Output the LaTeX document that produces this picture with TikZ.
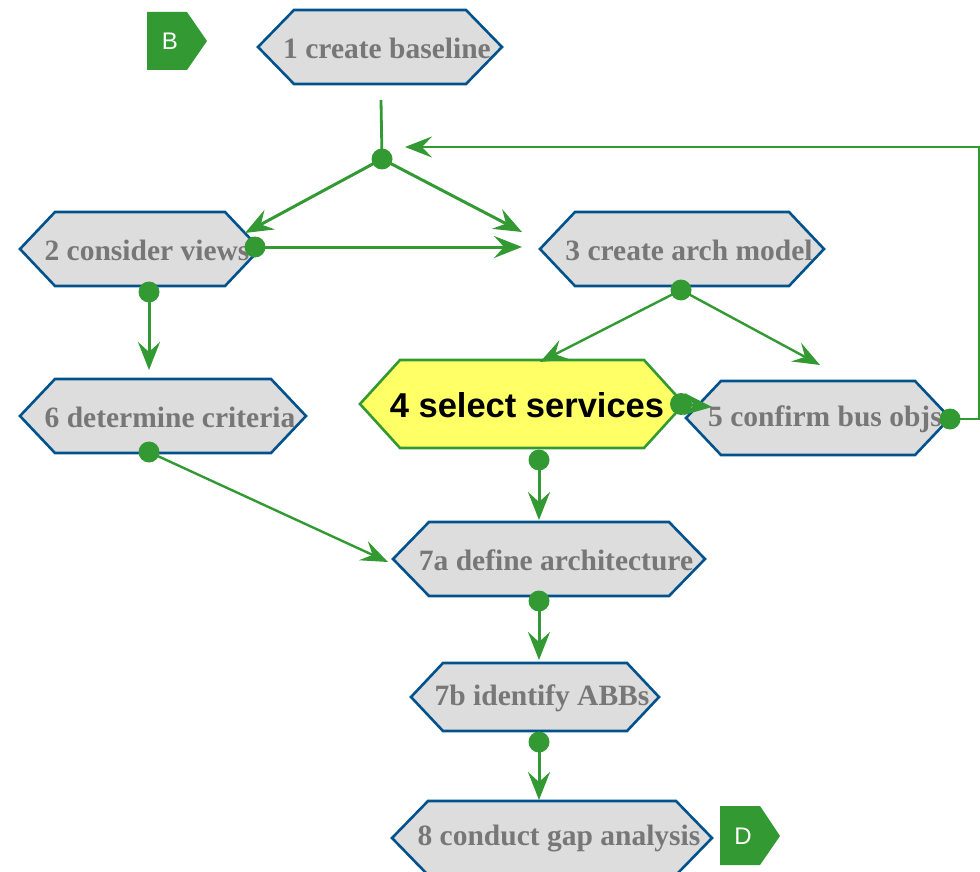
\documentclass[tikz,border=0pt]{standalone}
\usepackage{fontspec}
\setmainfont{Liberation Serif}
\newfontfamily\arialf{Liberation Sans}
\usetikzlibrary{arrows.meta,calc}
\definecolor{flowgreen}{RGB}{51,153,51}
\definecolor{hexblue}{RGB}{0,82,140}
\definecolor{hexfill}{RGB}{221,221,221}
\definecolor{hextext}{RGB}{119,119,119}
\definecolor{hiyellow}{RGB}{255,255,102}
\tikzset{
  hexshape/.style={draw=hexblue, fill=hexfill, line width=2.6pt, line join=miter},
  hexhi/.style={draw=flowgreen, fill=hiyellow, line width=2.6pt, line join=miter},
  hexlabel/.style={text=hextext, font=\fontsize{29.5}{31}\selectfont\bfseries, inner sep=0pt, xshift=7pt},
  hilabel/.style={text=black, font=\arialf\fontsize{34.5}{36}\selectfont\bfseries, inner sep=0pt, xshift=5pt},
  flow/.style={draw=flowgreen, line width=3pt, -{Stealth[length=28pt,width=22pt,inset=10pt]}},
  flowthin/.style={draw=flowgreen, line width=2.4pt, -{Stealth[length=27pt,width=21pt,inset=10pt]}},
  plainline/.style={draw=flowgreen, line width=2.8pt},
  dot/.style={fill=flowgreen},
  tagshape/.style={fill=flowgreen},
  taglabel/.style={text=white, font=\arialf\fontsize{24}{26}\selectfont, inner sep=0pt}
}
% #1 name, #2 cx, #3 cy, #4 half width, #5 half height, #6 inset, #7 shape style, #8 label style, #9 text
\newcommand{\hexnode}[9]{%
  \path[#7] ({#2-#4},{#3}) -- ({#2-#4+#6},{#3-#5}) -- ({#2+#4-#6},{#3-#5}) -- ({#2+#4},{#3}) -- ({#2+#4-#6},{#3+#5}) -- ({#2-#4+#6},{#3+#5}) -- cycle;
  \node[#8] (#1) at (#2,{#3+1}) {#9};
}
\begin{document}
\begin{tikzpicture}[x=1pt,y=-1pt]
\useasboundingbox (0,0) rectangle (980,872);
\clip (0,0) rectangle (980,872);

% tags
\fill[tagshape] (147,12) -- (187,12) -- (207,41) -- (187,70) -- (147,70) -- cycle;
\node[taglabel] (tagB) at (170,41) {B};
\fill[tagshape] (720,806) -- (760,806) -- (780,836) -- (760,865) -- (720,865) -- cycle;
\node[taglabel] (tagD) at (743,836) {D};

% hexagons
\hexnode{h1}{380}{47}{122}{37}{36}{hexshape}{hexlabel}{1 create baseline}
\hexnode{h2}{140}{249}{120}{37}{35}{hexshape}{hexlabel}{2 consider views}
\hexnode{h3}{682}{249}{142}{37}{35}{hexshape}{hexlabel}{3 create arch model}
\hexnode{h5}{818}{418}{132}{37}{35}{hexshape}{hexlabel}{5 confirm bus objs}
\hexnode{h4}{522}{404}{162}{44}{40}{hexhi}{hilabel}{4 select services}
\hexnode{h6}{163}{416}{143}{37}{35}{hexshape}{hexlabel}{6 determine criteria}
\hexnode{h7a}{549}{559}{156}{37}{36}{hexshape}{hexlabel}{7a define architecture}
\hexnode{h7b}{535}{697}{124}{34}{32}{hexshape}{hexlabel}{7b identify ABBs}
\hexnode{h8}{552}{838}{160}{37}{36}{hexshape}{hexlabel}{8 conduct gap analysis}

% connector points
\coordinate (s1) at (381,100);
\coordinate (j1) at (382,159);
\coordinate (e2) at (245,233);
\coordinate (e3) at (522,232);
\coordinate (d2r) at (255,247);
\coordinate (e3b) at (522,247);
\coordinate (d2b) at (149,292);
\coordinate (e6) at (149,370);
\coordinate (d3) at (681,290);
\coordinate (e4) at (540,362);
\coordinate (e5) at (820,365);
\coordinate (d4r) at (681,404);
\coordinate (e5b) at (712,407);
\coordinate (d4b) at (539,460);
\coordinate (e7a) at (539,520);
\coordinate (d6) at (149,452);
\coordinate (e7aL) at (388,562);
\coordinate (d7a) at (539,601);
\coordinate (e7b) at (539,660);
\coordinate (d7b) at (539,742);
\coordinate (e8) at (539,800);
\coordinate (d5) at (950,419);
\coordinate (c1) at (979,419);
\coordinate (c2) at (979,147);
\coordinate (e1r) at (405,147);

% connectors
\draw[plainline] (s1) -- (j1);
\draw[flow] (j1) -- (e2);
\draw[flow] (j1) -- (e3);
\draw[flow] (d2r) -- (e3b);
\draw[flow] (d2b) -- (e6);
\draw[flowthin] (d3) -- (e4);
\draw[flowthin] (d3) -- (e5);
\draw[flow] (d4r) -- (e5b);
\draw[flow] (d4b) -- (e7a);
\draw[flowthin] (d6) -- (e7aL);
\draw[flow] (d7a) -- (e7b);
\draw[flow] (d7b) -- (e8);
\draw[flowthin] (d5) -- (c1) -- (c2) -- (e1r);

% dots
\foreach \p in {j1,d2r,d2b,d3,d4b,d6,d7a,d7b,d5}{\fill[dot] (\p) circle (10.5);}
\fill[dot] (d4r) circle (11);
\end{tikzpicture}
\end{document}
